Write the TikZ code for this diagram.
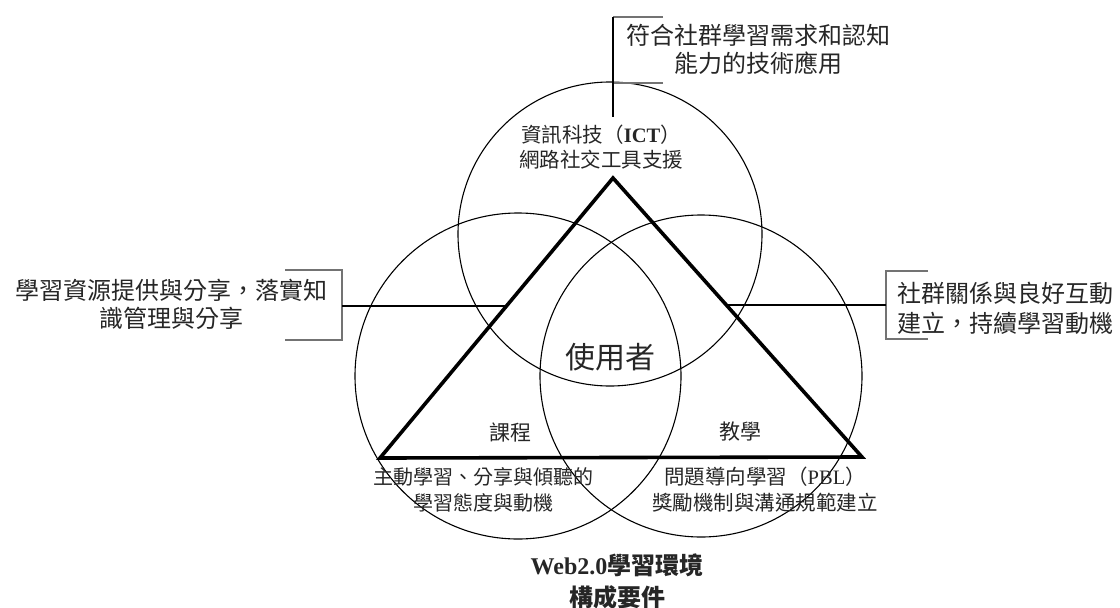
\documentclass[tikz,border=0pt]{standalone}
\usepackage{fontspec}
\setmainfont{Liberation Serif}
\newfontfamily\cjk{Noto Sans CJK TC}
\newfontfamily\lat{Liberation Serif}
\begin{document}
\begin{tikzpicture}[x=1pt,y=-1pt,
  circ/.style={circle,draw=black,line width=1.1pt,inner sep=0pt},
  tri/.style={draw=black,line width=3.6pt,line join=miter},
  brk/.style={draw=black!55,line width=2.6pt},
  conn/.style={draw=black,line width=1.4pt},
  lbl/.style={text=black!85,inner sep=0pt,font=\cjk}]
\useasboundingbox (0,0) rectangle (1120,608);
% circles
\node[circ,minimum size=304pt] (ctop) at (610,234) {};
\node[circ,minimum size=326pt] (cleft) at (518,376) {};
\node[circ,minimum size=322pt] (cright) at (701,376) {};
% triangle
\coordinate (tA) at (613,178);
\coordinate (tB) at (380,458);
\coordinate (tC) at (862,457);
\draw[tri] (tA) -- (tB) -- (tC) -- cycle;
% top bracket
\coordinate (tb1) at (613,17);
\coordinate (tb2) at (613,117);
\draw[brk] (663,17) -- (613,17);
\draw[brk] (663,83) -- (613,83);
\draw[conn] (tb1) -- (tb2);
% left bracket
\draw[brk] (285,270) -- (342,270) -- (342,340) -- (285,340);
\coordinate (lb) at (342,306);
\coordinate (lc) at (506,306);
\draw[conn] (lb) -- (lc);
% right bracket
\draw[brk] (928,271) -- (886,271) -- (886,339) -- (928,339);
\coordinate (rb) at (886,305);
\coordinate (rc) at (726,305);
\draw[conn] (rb) -- (rc);
% labels
\node[lbl,align=center,font=\cjk\fontsize{24}{28}\selectfont] (ltop) at (758,49) {符合社群學習需求和認知\\能力的技術應用};
\node[lbl,align=center,font=\cjk\fontsize{24}{28}\selectfont] (lleft) at (172,304) {學習資源提供與分享，落實知\\識管理與分享};
\node[lbl,align=left,anchor=west,font=\cjk\fontsize{24}{30}\selectfont] (lright) at (897,308) {社群關係與良好互動\\建立，持續學習動機};
\node[lbl,align=center,font=\cjk\fontsize{20.5}{25}\selectfont] (lict) at (601,147) {資訊科技（{\lat\bfseries ICT}）\\網路社交工具支援};
\node[lbl,font=\cjk\fontsize{30}{34}\selectfont] (luser) at (610,357) {使用者};
\node[lbl,font=\cjk\fontsize{21}{24}\selectfont] (lcourse) at (510,432) {課程};
\node[lbl,font=\cjk\fontsize{21}{24}\selectfont] (lteach) at (740,432) {教學};
\node[lbl,align=center,font=\cjk\fontsize{20}{26}\selectfont] (lcl) at (483,490) {主動學習、分享與傾聽的\\學習態度與動機};
\node[lbl,align=center,font=\cjk\fontsize{20.5}{26}\selectfont] (lcr) at (765,490) {問題導向學習（{\lat PBL}）\\獎勵機制與溝通規範建立};
\node[lbl,align=center,font=\cjk\bfseries\fontsize{24}{32}\selectfont] (lweb) at (617,581) {{\lat\bfseries Web2.0}學習環境\\構成要件};
\end{tikzpicture}
\end{document}
